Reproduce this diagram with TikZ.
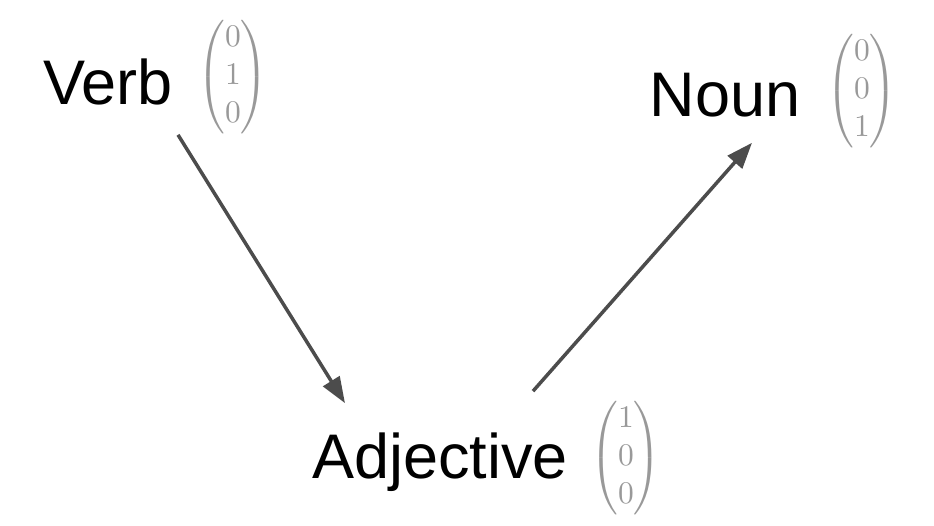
\documentclass[tikz,border=0pt]{standalone}
\usepackage{amsmath}
\usepackage{fontspec}
\newfontfamily\wordfont{Liberation Sans}
\usetikzlibrary{arrows.meta}
\newcommand{\onehotvec}[3]{\scalebox{3.15}{$\begin{pmatrix}#1\\#2\\#3\end{pmatrix}$}}

\begin{document}
\begin{tikzpicture}[x=1pt,y=-1pt,
  word/.style={anchor=base, inner sep=0pt, font=\wordfont\fontsize{63}{75}\selectfont},
  onehot/.style={inner sep=0pt, text=black!40},
  link/.style={-{Triangle[length=26pt,width=19pt]}, line width=3.5pt, draw=black!70}]
  \useasboundingbox (0,0) rectangle (934,526);

  % Words
  \node[word] (verb) at (108,105) {Verb};
  \node[word] (noun) at (725,117) {Noun};
  \node[word] (adj) at (440,478) {Adjective};

  % One-hot vectors
  \node[onehot] (verbvec) at (233,77) {\onehotvec{0}{1}{0}};
  \node[onehot] (nounvec) at (862,91) {\onehotvec{0}{0}{1}};
  \node[onehot] (adjvec) at (626,458) {\onehotvec{1}{0}{0}};

  % Arrows
  \draw[link] ([shift={(5,29)}]verb.south east) -- ([shift={(33,-29)}]adj.north west);
  \draw[link] ([shift={(93,-41)}]adj.north) -- ([shift={(27,25)}]noun.south);
\end{tikzpicture}
\end{document}
